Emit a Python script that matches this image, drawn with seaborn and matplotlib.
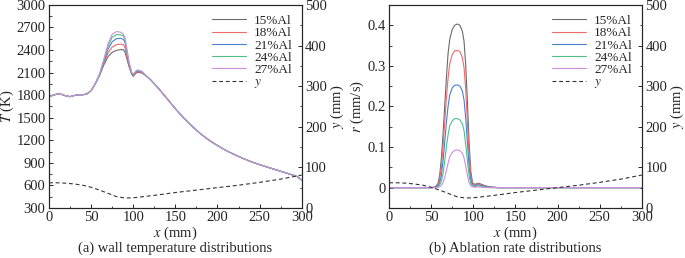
import numpy as np
import pandas as pd
import matplotlib
matplotlib.use("Agg")
import matplotlib.pyplot as plt
import seaborn as sb
from matplotlib.ticker import MultipleLocator
from matplotlib.lines import Line2D

# series names and colours
series = ['15%Al', '18%Al', '21%Al', '24%Al', '27%Al']
colors = ['#6b6b6b', '#f06a6a', '#4a7fd0', '#4fbf88', '#cf8fdc']

# wall temperature: common part (before and after the throat region)
x_T_head = [0, 5, 10, 15, 20, 25, 30, 35, 40, 45, 50]
T_head = [1775, 1800, 1815, 1810, 1790, 1780, 1795, 1805, 1805, 1815, 1860]
x_T_tail = [115, 120, 130, 140, 150, 160, 170, 180, 190, 200, 210, 220,
            230, 240, 250, 260, 270, 280, 290, 295, 300]
T_tail = [2060, 2010, 1890, 1755, 1620, 1495, 1385, 1285, 1200, 1130, 1065,
          1010, 960, 915, 875, 840, 805, 770, 735, 715, 670]

# wall temperature around the throat, one list per series
x_T_peak = [55, 60, 65, 70, 75, 80, 85, 88, 90, 92, 95, 98, 100, 103, 105, 110]
T_15 = [1950, 2060, 2200, 2310, 2370, 2395, 2405, 2405, 2380, 2300, 2180, 2080, 2050, 2090, 2105, 2095]
T_18 = [1950, 2065, 2220, 2360, 2440, 2470, 2478, 2472, 2440, 2340, 2200, 2090, 2060, 2100, 2115, 2105]
T_21 = [1955, 2070, 2240, 2410, 2510, 2550, 2556, 2545, 2510, 2400, 2220, 2100, 2070, 2110, 2125, 2112]
T_24 = [1955, 2075, 2260, 2450, 2570, 2605, 2602, 2590, 2550, 2430, 2230, 2100, 2075, 2115, 2130, 2115]
T_27 = [1955, 2080, 2270, 2480, 2610, 2645, 2638, 2615, 2570, 2440, 2240, 2105, 2080, 2120, 2135, 2120]

# ablation rate
x_r = [0, 50, 55, 58, 60, 62, 64, 66, 68, 70, 72, 75, 78, 81, 84, 87, 89, 91,
       93, 95, 97, 99, 102, 106, 110, 115, 120, 130, 300]
r_15 = [0, 0, 0.002, 0.01, 0.03, 0.07, 0.13, 0.2, 0.27, 0.33, 0.365, 0.39, 0.4, 0.403,
        0.4, 0.385, 0.36, 0.3, 0.21, 0.11, 0.04, 0.012, 0.008, 0.011, 0.008, 0.004, 0.002, 0, 0]
r_18 = [0, 0, 0.001, 0.006, 0.02, 0.05, 0.1, 0.16, 0.22, 0.27, 0.305, 0.328, 0.337, 0.338,
        0.335, 0.32, 0.295, 0.24, 0.16, 0.08, 0.03, 0.01, 0.007, 0.009, 0.007, 0.003, 0.001, 0, 0]
r_21 = [0, 0, 0.001, 0.004, 0.012, 0.03, 0.065, 0.11, 0.16, 0.2, 0.228, 0.246, 0.252, 0.253,
        0.25, 0.238, 0.215, 0.17, 0.11, 0.05, 0.018, 0.007, 0.005, 0.007, 0.005, 0.002, 0.001, 0, 0]
r_24 = [0, 0, 0, 0.002, 0.006, 0.015, 0.035, 0.065, 0.1, 0.13, 0.152, 0.165, 0.17, 0.17,
        0.167, 0.157, 0.14, 0.105, 0.065, 0.028, 0.01, 0.004, 0.003, 0.004, 0.003, 0.001, 0, 0, 0]
r_27 = [0, 0, 0, 0.001, 0.002, 0.005, 0.012, 0.025, 0.042, 0.06, 0.076, 0.087, 0.092, 0.093,
        0.091, 0.085, 0.073, 0.052, 0.03, 0.012, 0.004, 0.002, 0.001, 0.002, 0.001, 0, 0, 0, 0]

# motor contour y (mm)
x_geo = [0, 10, 20, 30, 40, 50, 60, 70, 80, 90, 100, 125, 150, 175, 200, 225, 250, 275, 300]
y_geo = [62, 62, 61, 59, 56, 51, 44, 36, 28, 24.5, 25, 31, 38, 44, 50, 56, 63, 71, 81]

T_peaks = [T_15, T_18, T_21, T_24, T_27]
r_all = [r_15, r_18, r_21, r_24, r_27]

rows = []
for name, tp in zip(series, T_peaks):
    for xv, tv in zip(x_T_head + x_T_peak + x_T_tail, T_head + tp + T_tail):
        rows.append((name, xv, tv))
df_T = pd.DataFrame(rows, columns=['case', 'x', 'T'])

rows = []
for name, rv in zip(series, r_all):
    for xv, v in zip(x_r, rv):
        rows.append((name, xv, v))
df_r = pd.DataFrame(rows, columns=['case', 'x', 'r'])
df_geo = pd.DataFrame({'x': x_geo, 'y': y_geo})

sb.set_style('ticks')
plt.rcParams['font.family'] = ['Liberation Serif', 'DejaVu Serif']
plt.rcParams['mathtext.fontset'] = 'stix'
plt.rcParams['font.size'] = 10.5
plt.rcParams['axes.linewidth'] = 0.8
for k in ['xtick', 'ytick']:
    plt.rcParams[k + '.direction'] = 'in'
    plt.rcParams[k + '.major.size'] = 3
    plt.rcParams[k + '.minor.size'] = 1.8
    plt.rcParams[k + '.major.width'] = 0.7
    plt.rcParams[k + '.minor.width'] = 0.6
    plt.rcParams[k + '.labelsize'] = 10.5
    plt.rcParams[k + '.major.pad'] = 2.5

fig = plt.figure(figsize=(6.85, 2.58), dpi=100)
ax1 = fig.add_axes([0.0715, 0.194, 0.369, 0.787])
ax2 = fig.add_axes([0.568, 0.194, 0.369, 0.787])
pal = dict(zip(series, colors))


def style_twin(ax, tw):
    sb.lineplot(data=df_geo, x='x', y='y', ax=tw, color='#333333', lw=0.8,
                linestyle=(0, (3.5, 2.5)))
    tw.set_ylim(0, 500)
    tw.yaxis.set_major_locator(MultipleLocator(100))
    tw.yaxis.set_minor_locator(MultipleLocator(50))
    tw.set_ylabel('$y$ (mm)', labelpad=1)
    tw.tick_params(which='both', direction='in')
    ax.set_xlim(0, 300)
    ax.xaxis.set_major_locator(MultipleLocator(50))
    ax.xaxis.set_minor_locator(MultipleLocator(25))
    ax.set_xlabel('$x$ (mm)', labelpad=0)
    handles = [Line2D([], [], color=c, lw=0.8) for c in colors]
    handles.append(Line2D([], [], color='#333333', lw=0.8, linestyle=(0, (3.5, 2.5))))
    ax.legend(handles, series + ['$y$'], loc='upper right', frameon=False,
              fontsize=9.5, handlelength=2.6, labelspacing=0.0,
              borderaxespad=0.35, handletextpad=0.6)


sb.lineplot(data=df_T, x='x', y='T', hue='case', palette=pal, ax=ax1, lw=0.8, legend=False)
ax1.set_ylim(300, 3000)
ax1.yaxis.set_major_locator(MultipleLocator(300))
ax1.yaxis.set_minor_locator(MultipleLocator(150))
ax1.set_ylabel('$T$ (K)', labelpad=0)
tw1 = ax1.twinx()
style_twin(ax1, tw1)

sb.lineplot(data=df_r, x='x', y='r', hue='case', palette=pal, ax=ax2, lw=0.8, legend=False)
ax2.set_ylim(-0.05, 0.45)
ax2.yaxis.set_major_locator(MultipleLocator(0.1))
ax2.yaxis.set_minor_locator(MultipleLocator(0.05))
ax2.set_yticks([0, 0.1, 0.2, 0.3, 0.4], ['0', '0.1', '0.2', '0.3', '0.4'])
ax2.set_ylabel('$r$ (mm/s)', labelpad=1)
tw2 = ax2.twinx()
style_twin(ax2, tw2)

fig.text(0.256, 0.025, '(a) wall temperature distributions', ha='center', fontsize=10.5)
fig.text(0.752, 0.025, '(b) Ablation rate distributions', ha='center', fontsize=10.5)

plt.savefig('out.png', dpi=100)
